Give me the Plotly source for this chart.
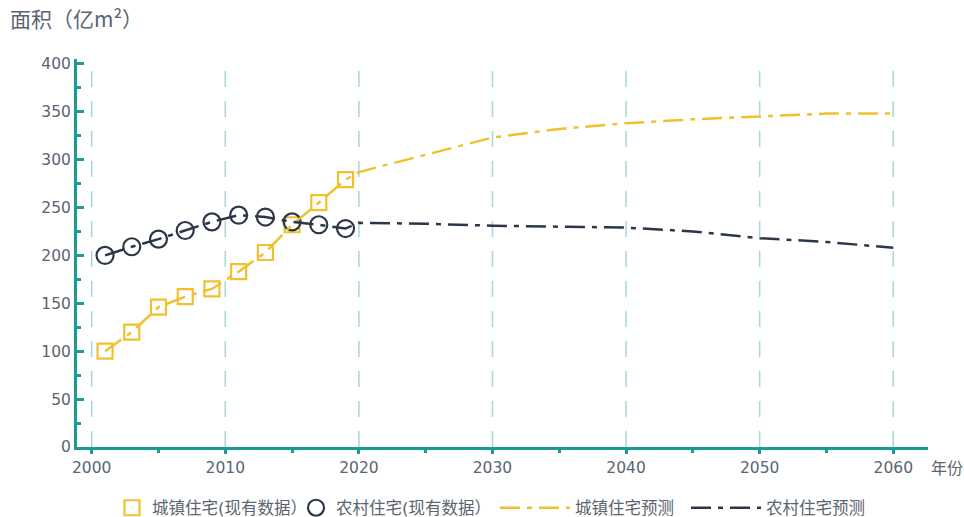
import plotly.graph_objects as go

hist_years = [2001, 2003, 2005, 2007, 2009, 2011, 2013, 2015, 2017, 2019]
urban_hist = [100, 120, 146, 157, 165, 183, 203, 232, 255, 279]
rural_hist = [200, 209, 217, 226, 235, 242, 240, 235, 232, 228]

fc_years = [2020, 2025, 2030, 2035, 2040, 2045, 2050, 2055, 2060]
urban_fc = [287, 305, 323, 332, 338, 342, 345, 348, 348]
rural_fc = [234, 233, 231, 230, 229, 225, 218, 214, 208]

x_ticks = [2000, 2010, 2020, 2030, 2040, 2050, 2060]
y_ticks = [0, 50, 100, 150, 200, 250, 300, 350, 400]

YELLOW = "#EFC12E"
NAVY = "#2B3648"
TEAL = "#1E9A96"
GRID = "#A3DAD8"
TXT = "#5B6470"
FONT = "DejaVu Sans, Noto Sans CJK SC, sans-serif"
CJK = "Noto Sans CJK SC, sans-serif"
DASH = "20px,7px,5px,7px"

# figure is taller than the 517px window; the extra strip below is simply not shown
W, H = 964, 540
L, R, T, B = 77, 36, 59, H - 447
PW, PH = W - L - R, H - T - B


def px_x(fx):
    return (fx - L) / PW


def px_y(fy):
    return (H - B - fy) / PH


fig = go.Figure()
fig.add_trace(go.Scatter(
    x=hist_years, y=urban_hist, mode="markers", name="城镇住宅(现有数据）", legend="legend",
    marker=dict(symbol="square-open", size=15, color=YELLOW, line=dict(width=2.2, color=YELLOW)),
))
fig.add_trace(go.Scatter(
    x=hist_years, y=rural_hist, mode="markers", name="农村住宅(现有数据）", legend="legend2",
    marker=dict(symbol="circle-open", size=17, color=NAVY, line=dict(width=2.2, color=NAVY)),
))
fig.add_trace(go.Scatter(
    x=hist_years + fc_years, y=urban_hist + urban_fc, mode="lines", name="城镇住宅预测", legend="legend3",
    line=dict(color=YELLOW, width=2.5, dash=DASH),
))
fig.add_trace(go.Scatter(
    x=hist_years + fc_years, y=rural_hist + rural_fc, mode="lines", name="农村住宅预测", legend="legend4",
    line=dict(color=NAVY, width=2.5, dash=DASH),
))

for xv in x_ticks:
    fig.add_shape(type="line", xref="x", yref="y", x0=xv, x1=xv, y0=0, y1=405,
                  line=dict(color=GRID, width=1.5, dash="16px,14px"), layer="below")

leg_y = px_y(508)


def leg(xf, iw):
    return dict(orientation="h", x=px_x(xf), xanchor="left", y=leg_y, yanchor="middle",
                font=dict(size=16.5, color=TXT, family=FONT), itemwidth=iw, bgcolor="rgba(0,0,0,0)")


fig.update_layout(
    width=W, height=H,
    margin=dict(l=L, r=R, t=T, b=B),
    plot_bgcolor="white", paper_bgcolor="white",
    font=dict(family=FONT, size=16, color=TXT),
    showlegend=True,
    legend=leg(112, 30),
    legend2=leg(296, 30),
    legend3=leg(495, 70),
    legend4=leg(686, 70),
    title=dict(text="面积（亿m²）", xref="container", yref="container", x=10 / W, y=1 - 20 / H,
               xanchor="left", yanchor="middle", font=dict(size=21, color=TXT, family=CJK)),
    xaxis=dict(range=[1998.9, 2062.6], tickvals=x_ticks, showgrid=False, zeroline=False,
               showline=True, linecolor=TEAL, linewidth=3,
               ticks="outside", ticklen=4, tickwidth=2.5, tickcolor=TEAL,
               minor=dict(dtick=5, tick0=2000, ticks="outside", ticklen=3, tickwidth=2.5, tickcolor=TEAL),
               tickfont=dict(size=15.5, color=TXT), automargin=False),
    yaxis=dict(range=[0, 405], tickvals=y_ticks, showgrid=False, zeroline=False,
               showline=True, linecolor=TEAL, linewidth=3,
               ticks="inside", ticklen=7, tickwidth=2.5, tickcolor=TEAL,
               minor=dict(dtick=25, tick0=0, ticks="inside", ticklen=4, tickwidth=2.5, tickcolor=TEAL),
               tickfont=dict(size=15.5, color=TXT), automargin=False),
    annotations=[
        dict(text="年份", xref="paper", yref="paper", x=px_x(929), y=px_y(467),
             xanchor="left", yanchor="middle", showarrow=False, font=dict(size=16, color=TXT, family=CJK)),
    ],
)

fig.write_html(
    "out.html",
    config={"displayModeBar": False},
    post_script="document.body.style.margin='0';document.body.style.overflow='hidden';",
)
